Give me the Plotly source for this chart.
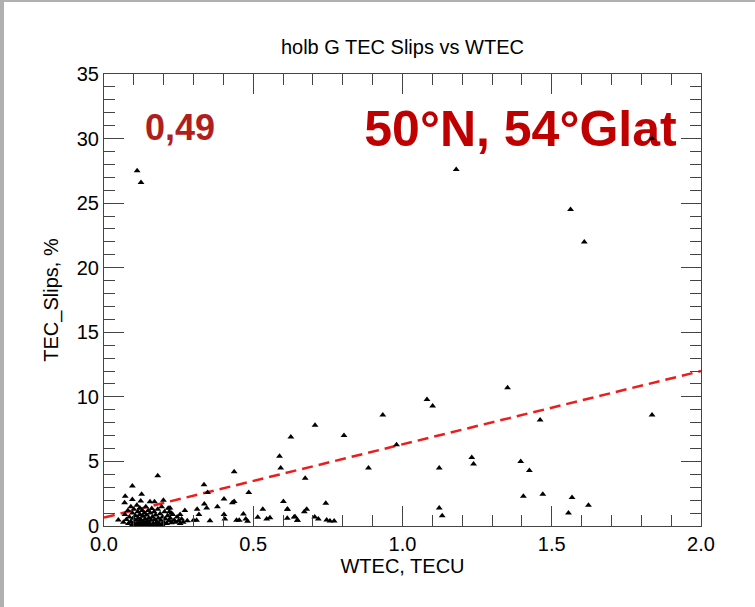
import plotly.graph_objects as go

# ---- data ----
wtec = [
    0.111, 0.124, 1.18, 1.563, 1.609, 1.836,
    1.082, 1.101, 0.934, 0.707, 0.626, 0.804, 0.980, 0.588, 0.592, 0.886, 0.674,
    1.123, 1.232, 1.238, 0.601, 0.614, 0.637, 0.648, 0.671, 0.679, 0.706, 0.718,
    0.743, 0.746, 0.757, 0.771, 1.123, 1.133,
    1.352, 1.461, 1.836, 1.396, 1.425, 1.405, 1.470, 1.568, 1.556, 1.623,
    0.436, 0.180, 0.095, 0.335, 0.347, 0.485, 0.126, 0.071, 0.069, 0.095, 0.199,
    0.402, 0.430, 0.436, 0.336, 0.344, 0.380, 0.312, 0.532, 0.615, 0.221, 0.219,
    0.271, 0.318, 0.255, 0.279, 0.300, 0.310, 0.355, 0.402, 0.405, 0.444, 0.453,
    0.467, 0.475, 0.481, 0.515, 0.545, 0.556, 0.614, 0.640, 0.648, 0.048,
    0.123, 0.154, 0.169, 0.215, 0.226,
    0.065, 0.070, 0.075, 0.080, 0.082, 0.085, 0.090, 0.090, 0.095, 0.098, 0.100,
    0.100, 0.105, 0.108, 0.110, 0.110, 0.113, 0.115, 0.118, 0.120, 0.120, 0.123,
    0.125, 0.128, 0.130, 0.132, 0.135, 0.138, 0.140, 0.140, 0.143, 0.145, 0.148,
    0.150, 0.152, 0.155, 0.158, 0.160, 0.162, 0.165, 0.168, 0.170, 0.173, 0.176,
    0.180, 0.182, 0.185, 0.188, 0.190, 0.193, 0.196, 0.200, 0.203, 0.206, 0.210,
    0.213, 0.218, 0.222, 0.226, 0.230, 0.235, 0.240, 0.245, 0.250, 0.255, 0.260,
    0.265, 0.095, 0.105, 0.115, 0.125, 0.135, 0.145, 0.155, 0.165, 0.175, 0.185,
    0.195,
]
slips = [
    27.5, 26.6, 27.6, 24.5, 22.0, 30.0,
    9.8, 9.3, 8.6, 7.8, 6.9, 7.0, 6.3, 5.4, 4.5, 4.5, 3.7,
    4.5, 5.3, 4.8, 1.9, 1.3, 0.7, 0.44, 1.1, 1.3, 0.7, 0.54,
    1.76, 0.46, 0.39, 0.39, 1.4, 0.8,
    10.7, 8.2, 8.6, 5.0, 4.3, 2.3, 2.45, 2.2, 1.0, 1.6,
    4.2, 3.9, 3.1, 3.2, 2.6, 2.6, 2.45, 2.3, 1.8, 2.05, 2.0,
    2.1, 1.8, 1.9, 1.7, 1.4, 1.5, 1.3, 1.3, 1.3, 1.4, 1.1,
    1.2, 0.9, 0.9, 0.41, 0.45, 0.45, 0.41, 0.9, 0.54, 0.44, 0.44,
    0.93, 0.54, 0.36, 0.67, 0.54, 0.64, 0.6, 0.72, 0.44, 0.46,
    1.94, 1.88, 1.88, 1.37, 0.98,
    0.3, 0.9, 0.5, 1.2, 0.2, 0.7, 1.5, 0.35, 1.0, 0.6, 0.2,
    1.3, 0.8, 0.45, 1.6, 0.15, 1.1, 0.6, 0.3, 0.9, 1.4, 0.5,
    0.2, 1.2, 0.75, 0.35, 1.0, 0.55, 0.2, 1.5, 0.85, 0.4, 1.2,
    0.6, 0.25, 1.0, 0.45, 1.35, 0.7, 0.2, 1.1, 0.5, 0.85, 0.3,
    1.3, 0.6, 0.2, 0.95, 0.45, 1.5, 0.7, 0.3, 1.1, 0.55, 0.2,
    0.8, 0.4, 0.6, 0.25, 0.9, 0.45, 0.3, 0.7, 0.4, 0.2, 0.55,
    0.3, 0.1, 0.1, 0.1, 0.1, 0.1, 0.1, 0.1, 0.1, 0.1, 0.1,
    0.1,
]
fit_x = [0.0, 2.0]
fit_y = [0.65, 12.0]

title = "holb G TEC Slips vs WTEC"
corr_label = "0,49"
station_label = "50°N, 54°Glat"
station_label_pos = (0.872, 30.4)

FONT = "Liberation Sans, Arial, Helvetica, sans-serif"
RED = "#C00000"

fig = go.Figure()
fig.add_trace(go.Scatter(
    x=[station_label_pos[0]], y=[station_label_pos[1]], mode="text",
    text=[station_label], textposition="middle right",
    textfont=dict(family=FONT, size=50, color=RED, weight="bold"),
    showlegend=False, hoverinfo="skip", cliponaxis=False,
))
fig.add_trace(go.Scatter(
    x=fit_x, y=fit_y, mode="lines",
    line=dict(color="#EE1C1C", width=2.5, dash="11px,6px"),
    showlegend=False, hoverinfo="skip",
))
fig.add_trace(go.Scatter(
    x=wtec, y=slips, mode="markers",
    marker=dict(symbol="triangle-up", size=6, color="black", line=dict(width=0)),
    showlegend=False,
))

axis_common = dict(
    showgrid=False, zeroline=False,
    showline=True, linecolor="#444444", linewidth=1, mirror="ticks",
    ticks="inside", ticklen=20, tickcolor="#444444", tickwidth=1,
    tickfont=dict(family=FONT, size=20, color="black"),
)
fig.update_xaxes(
    range=[0, 2.0], tick0=0, dtick=0.5, tickformat=".1f",
    minor=dict(ticks="inside", ticklen=11, dtick=0.1, tickcolor="#444444"),
    title=dict(text="WTEC, TECU", font=dict(family=FONT, size=20, color="black"), standoff=0),
    **axis_common,
)
fig.update_yaxes(
    range=[0, 35], tick0=0, dtick=5,
    minor=dict(ticks="inside", ticklen=11, dtick=1, tickcolor="#444444"),
    title=dict(text="TEC_Slips, %", font=dict(family=FONT, size=20, color="black"), standoff=12),
    **axis_common,
)

fig.update_layout(
    width=755, height=607,
    margin=dict(l=104, r=54, t=74, b=81),
    paper_bgcolor="white", plot_bgcolor="white",
    title=dict(text=title, x=0.533, xanchor="center", y=1 - 47 / 607, yanchor="middle",
               font=dict(family=FONT, size=20, color="black")),
    annotations=[
        dict(text=corr_label, xref="paper", yref="paper", x=(143 - 104) / 597, y=(526 - 128) / 452,
             xanchor="left", yanchor="middle", showarrow=False,
             font=dict(family=FONT, size=36, color="#B01E1E", weight="bold")),
    ],
    shapes=[
        dict(type="rect", xref="paper", yref="paper", x0=-104 / 597, x1=-100 / 597, y0=-81 / 452, y1=526 / 452,
             fillcolor="#B0B0B0", line=dict(width=0), layer="above"),
        dict(type="rect", xref="paper", yref="paper", x0=-104 / 597, x1=651 / 597, y0=524 / 452, y1=526 / 452,
             fillcolor="#B0B0B0", line=dict(width=0), layer="above"),
    ],
)

fig.write_html("out.html")
